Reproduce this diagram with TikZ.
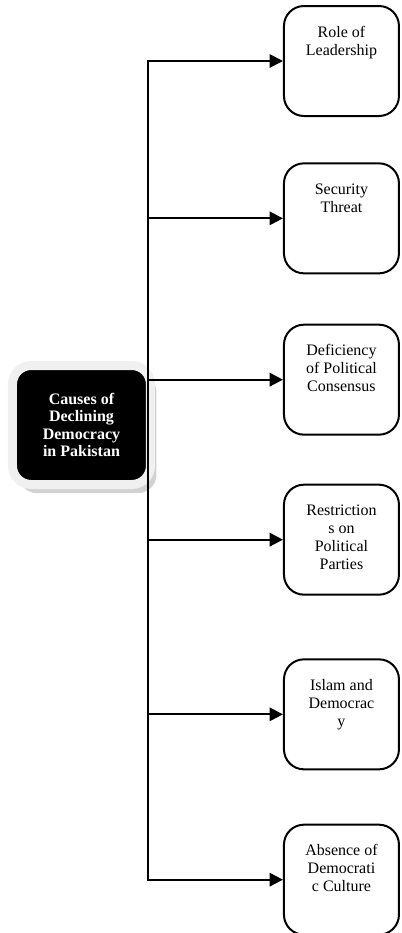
\documentclass[tikz,border=0pt]{standalone}
\usepackage{fontspec}
\setmainfont{Liberation Serif}
\usetikzlibrary{arrows.meta,positioning,shadows}

\newcommand{\causelines}[1]{\begin{tabular}[t]{@{}c@{}}#1\end{tabular}}

\begin{document}
\begin{tikzpicture}
		[cause/.style={rectangle,rounded corners=15pt,draw=black,line width=1.5pt,inner sep=0pt,
			minimum width=86.25pt,minimum height=82.5pt,
			text height=23.25pt,text depth=59.25pt,font=\fontsize{12}{13.5}\selectfont},
		topic/.style={rectangle,rounded corners=14pt,fill=black,draw=gray!12,line width=6.75pt,
			minimum width=103.5pt,minimum height=89.25pt,align=center,text=white,
			font=\bfseries\fontsize{12}{13}\selectfont,
			drop shadow={shadow xshift=4.5pt,shadow yshift=-6.5pt,fill=black!35}},
		link/.style={line width=1.5pt,-{Triangle[length=10pt,width=10pt]}}]

	\useasboundingbox (0,0) rectangle (300.75pt,-699.75pt);

	\node[topic] (causes) at (61.1pt,-318.75pt) {Causes of\\Declining\\Democracy\\in Pakistan};
	\coordinate (trunk) at (111pt,-318.75pt);

	\node[cause] (leadership) at (256.1pt,-45.75pt) {\causelines{Role of\\Leadership}};
	\node[cause] (security) [below=34pt of leadership] {\causelines{Security\\Threat}};
	\node[cause] (consensus) [below=37pt of security] {\causelines{Deficiency\\of Political\\Consensus}};
	\node[cause] (parties) [below=36pt of consensus] {\causelines{Restriction\\s on\\Political\\Parties}};
	\node[cause] (islam) [below=47pt of parties] {\causelines{Islam and\\Democrac\\y}};
	\node[cause] (culture) [below=40pt of islam] {\causelines{Absence of\\Democrati\\c Culture}};

	\foreach \c in {leadership,security,consensus,parties,islam,culture}
		\draw[link] (trunk) |- (\c.west);
\end{tikzpicture}
\end{document}
